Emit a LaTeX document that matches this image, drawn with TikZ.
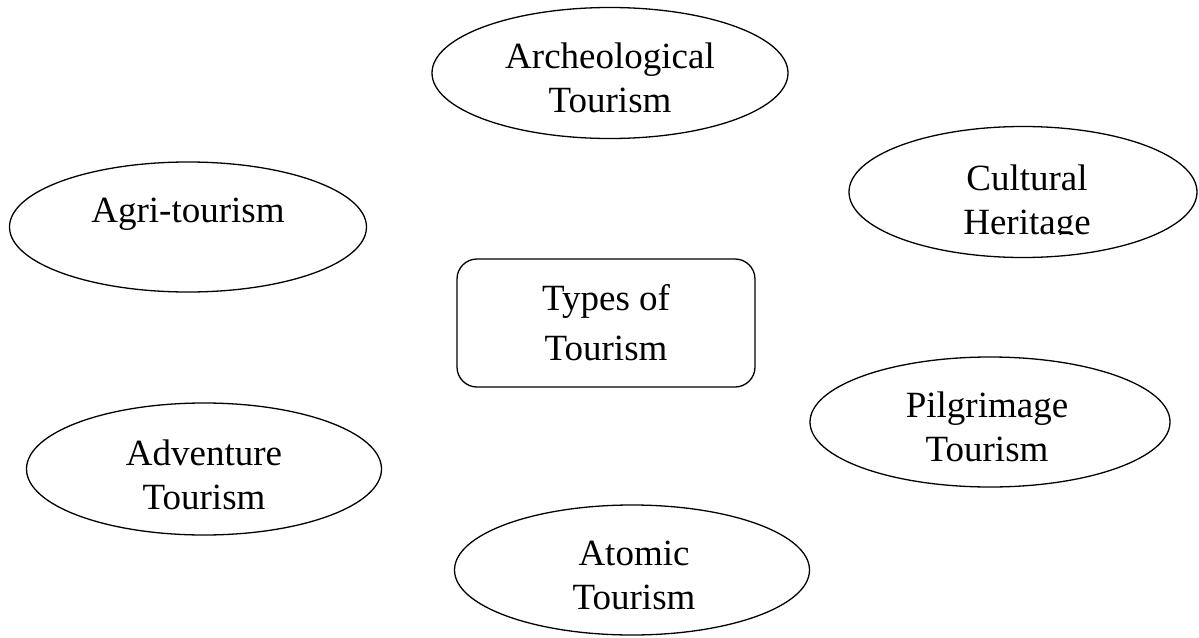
\documentclass[tikz,border=0pt]{standalone}
\usepackage{fontspec}
\setmainfont{Liberation Serif}
\usetikzlibrary{shapes.geometric}
\tikzset{
  oval/.style={draw, ellipse, line width=1.3pt, inner sep=0pt, outer sep=0pt},
  centerbox/.style={draw, rectangle, rounded corners=20pt, line width=1.3pt, inner sep=0pt,
    minimum width=298pt, minimum height=128pt},
  lbl/.style={align=center, inner sep=0pt, font=\fontsize{37}{44}\selectfont},
  lblwide/.style={align=center, inner sep=0pt, font=\fontsize{37}{50}\selectfont}
}
\begin{document}
\begin{tikzpicture}[x=1pt, y=-1pt]
\useasboundingbox (0,0) rectangle (1199,637);
% shapes
\node[oval, minimum width=356pt, minimum height=131pt] (arch) at (610,73) {};
\node[oval, minimum width=348pt, minimum height=131pt] (cult) at (1023,192) {};
\node[oval, minimum width=357pt, minimum height=130pt] (agri) at (188,227) {};
\node[centerbox] (types) at (606,323) {};
\node[oval, minimum width=360pt, minimum height=130pt] (pilg) at (990,422) {};
\node[oval, minimum width=355pt, minimum height=132pt] (adv) at (204,469) {};
\node[oval, minimum width=355pt, minimum height=130pt] (atom) at (632,570) {};
% texts
\node[lbl] (archt) at (610,78) {Archeological\\Tourism};
\begin{scope}
  \clip (880,140) rectangle (1180,234);
  \node[lbl] (cultt) at (1027,204) {Cultural\\Heritage};
\end{scope}
\node[lbl] (agrit) at (188,214) {Agri-tourism};
\node[lblwide] (typest) at (606,323) {Types of\\Tourism};
\node[lbl] (pilgt) at (987,427) {Pilgrimage\\Tourism};
\node[lbl] (advt) at (204,475) {Adventure\\Tourism};
\node[lbl] (atomt) at (634,575) {Atomic\\Tourism};
\end{tikzpicture}
\end{document}
